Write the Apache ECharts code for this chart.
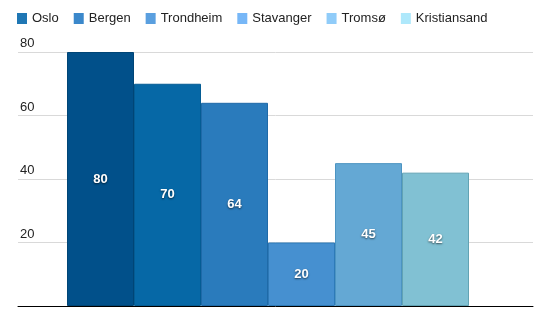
<!DOCTYPE html>
<html>
<head>
<meta charset="utf-8">
<script src="https://cdn.jsdelivr.net/npm/echarts@6/dist/echarts.min.js"></script>
<style>html,body{margin:0;padding:0;background:#fff}#c{width:543px;height:324px}</style>
</head>
<body>
<div id="c"></div>
<script>
const cities = ['Oslo', 'Bergen', 'Trondheim', 'Stavanger', 'Tromsø', 'Kristiansand'];
const values = [80, 70, 64, 20, 45, 42];
const yTicks = { min: 0, max: 80, interval: 20 };

const barColors = ['#01508a', '#0668a6', '#2a7bbc', '#4690d0', '#64a8d4', '#81c1d3'];
const borderColors = ['#004576', '#045c94', '#1f6aa8', '#2d7ab8', '#4c94c2', '#62a3b4'];
const legendColors = ['#1f77b4', '#3b88cb', '#5a9fdf', '#77b7f7', '#90ccf9', '#aee8fb'];

const chart = echarts.init(document.getElementById('c'), null, { renderer: 'canvas' });
const font = '"Liberation Sans", Arial, Helvetica, sans-serif';

chart.setOption({
  animation: false,
  textStyle: { fontFamily: font },
  legend: {
    left: 12, top: 7,
    itemWidth: 10, itemHeight: 11, itemGap: 15,
    icon: 'rect',
    textStyle: { fontSize: 13, color: '#222', fontFamily: font },
    data: cities.map((c, i) => ({ name: c, itemStyle: { color: legendColors[i], borderWidth: 0 } }))
  },
  grid: [
    { left: 18, right: 10, top: 52, bottom: 18 },
    { left: 18, right: 25, top: 52, bottom: 18 }
  ],
  xAxis: [
    { type: 'category', gridIndex: 0, data: [''], axisLine: { lineStyle: { color: '#000', width: 1 } }, axisTick: { show: false }, axisLabel: { show: false } },
    { type: 'category', gridIndex: 1, data: [''], show: false }
  ],
  yAxis: [
    {
      type: 'value', gridIndex: 0, min: yTicks.min, max: yTicks.max, interval: yTicks.interval,
      axisLine: { show: false }, axisTick: { show: false },
      splitLine: { lineStyle: { color: '#d9d9d9', width: 1 } },
      axisLabel: { inside: true, margin: 2, showMinLabel: false, verticalAlign: 'bottom', padding: [0, 0, 2, 0], fontSize: 13, color: '#222', fontFamily: font }
    },
    { type: 'value', gridIndex: 1, min: yTicks.min, max: yTicks.max, interval: yTicks.interval, show: false }
  ],
  series: cities.map((c, i) => ({
    name: c,
    type: 'bar',
    xAxisIndex: 1, yAxisIndex: 1,
    barWidth: 67, barGap: '0%',
    data: [values[i]],
    itemStyle: { color: barColors[i], borderColor: borderColors[i], borderWidth: 1 },
    label: {
      show: true, position: 'inside', color: '#fff', fontSize: 13, fontWeight: 'bold', fontFamily: font,
      textShadowColor: 'rgba(0,0,0,0.6)', textShadowBlur: 2, textShadowOffsetY: 1
    }
  }))
});
</script>
</body>
</html>
